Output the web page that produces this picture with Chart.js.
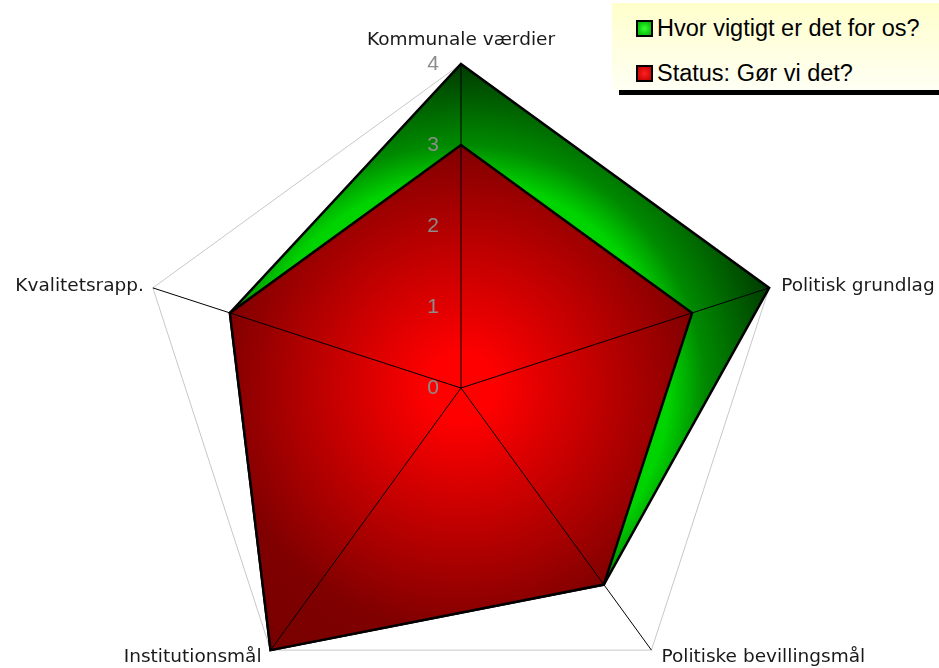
<!DOCTYPE html>
<html>
<head>
<meta charset="utf-8">
<script src="https://cdn.jsdelivr.net/npm/chart.js@4.4.1/dist/chart.umd.min.js"></script>
<style>
    html, body { margin: 0; padding: 0; background: #fff; overflow: hidden; width: 939px; height: 668px; }
    #wrap { position: absolute; left: 0; top: 0; width: 939px; height: 776px; }
    #legend {
        position: absolute; left: 612px; top: 3px; width: 327px; height: 87px;
        background: linear-gradient(to bottom, #ffffcc, #fffff4);
        font-family: 'Liberation Sans', Arial, sans-serif; font-size: 23.5px; color: #000;
        z-index: 2;
    }
    #legend .line { position: absolute; left: 7px; right: 0; top: 87px; height: 5px; background: #000; }
    #legend .item { position: absolute; left: 24px; height: 24px; line-height: 24px; white-space: nowrap; }
    #legend .box { display: inline-block; width: 13px; height: 13px; border: 2px solid #000; vertical-align: -1px; margin-right: 4px; }
</style>
</head>
<body>
<div id="wrap"><canvas id="radarChart"></canvas></div>
<div id="legend"></div>
<script>
const categories = ['Kommunale værdier', 'Politisk grundlag', 'Politiske bevillingsmål', 'Institutionsmål', 'Kvalitetsrapp.'];
const importanceValues = [4, 4, 3, 4, 3];
const statusValues = [3, 3, 3, 4, 3];
const tickLabels = ['0', '1', '2', '3', '4'];
const seriesNames = ['Hvor vigtigt er det for os?', 'Status: Gør vi det?'];

document.addEventListener('DOMContentLoaded', () => {
    const ctx = document.getElementById('radarChart');

    // radial shading from the centre of the chart
    const shade = (stops) => (context) => {
        const chart = context.chart;
        const scale = chart.scales.r;
        if (!scale || !chart.chartArea) return stops[0][1];
        const g = chart.ctx.createRadialGradient(scale.xCenter, scale.yCenter, 0, scale.xCenter, scale.yCenter, scale.drawingArea);
        stops.forEach(([pos, col]) => g.addColorStop(pos, col));
        return g;
    };

    // spokes, tick numbers and category labels on top of the fills
    const overlay = {
        id: 'overlay',
        afterDatasetsDraw(chart) {
            const scale = chart.scales.r;
            const c = chart.ctx;
            c.save();
            c.strokeStyle = '#000';
            c.lineWidth = 1;
            categories.forEach((_, i) => {
                const p = scale.getPointPositionForValue(i, scale.max);
                c.beginPath();
                c.moveTo(scale.xCenter, scale.yCenter);
                c.lineTo(p.x, p.y);
                c.stroke();
            });

            c.fillStyle = '#8c8c8c';
            c.font = '21px "Liberation Sans", Arial, sans-serif';
            c.textAlign = 'center';
            c.textBaseline = 'middle';
            tickLabels.forEach((t, i) => {
                const y = scale.yCenter - scale.getDistanceFromCenterForValue(i);
                c.fillText(t, scale.xCenter - 28, y);
            });

            c.fillStyle = '#1a1a1a';
            c.font = '18.5px "DejaVu Sans", Verdana, sans-serif';
            categories.forEach((label, i) => {
                const p = scale.getPointPositionForValue(i, scale.max);
                const dx = p.x - scale.xCenter;
                const dy = p.y - scale.yCenter;
                if (Math.abs(dx) < 1) {
                    c.textAlign = 'center';
                    c.textBaseline = 'alphabetic';
                    c.fillText(label, p.x, p.y - 19);
                } else if (dy < 0) {
                    c.textAlign = dx > 0 ? 'left' : 'right';
                    c.textBaseline = 'middle';
                    c.fillText(label, p.x + (dx > 0 ? 12 : -9), p.y - 2);
                } else {
                    c.textAlign = dx > 0 ? 'left' : 'right';
                    c.textBaseline = 'top';
                    c.fillText(label, p.x + (dx > 0 ? 10 : -9), p.y - 2);
                }
            });
            c.restore();
        }
    };

    new Chart(ctx, {
        type: 'radar',
        data: {
            labels: categories,
            datasets: [
                {
                    label: seriesNames[0],
                    data: importanceValues,
                    order: 1,
                    backgroundColor: shade([[0, '#00d800'], [0.64, '#00d400'], [0.75, '#008a00'], [1, '#003a00']]),
                    borderColor: '#000',
                    borderWidth: 2.5,
                    borderJoinStyle: 'miter',
                    pointRadius: 0,
                    fill: true,
                    clip: false
                },
                {
                    label: seriesNames[1],
                    data: statusValues,
                    order: 0,
                    backgroundColor: shade([[0, '#ff0000'], [0.1, '#ff0000'], [0.75, '#800000'], [1, '#780000']]),
                    borderColor: '#000',
                    borderWidth: 2.5,
                    borderJoinStyle: 'miter',
                    pointRadius: 0,
                    fill: true,
                    clip: false
                }
            ]
        },
        options: {
            responsive: true,
            maintainAspectRatio: false,
            animation: false,
            layout: { padding: { top: 64, bottom: 64, left: 0, right: 17 } },
            plugins: {
                legend: { display: false },
                tooltip: { enabled: false }
            },
            scales: {
                r: {
                    min: 0,
                    max: 4,
                    ticks: { display: false, stepSize: 1 },
                    pointLabels: { display: false },
                    angleLines: { display: false },
                    grid: {
                        color: (c) => (c.tick && c.tick.value === 4 ? '#c8c8c8' : 'rgba(0,0,0,0)'),
                        lineWidth: 1
                    }
                }
            }
        },
        plugins: [overlay]
    });

    // legend
    const legend = document.getElementById('legend');
    const swatches = [
        'radial-gradient(circle, #33ff33, #00b000)',
        'radial-gradient(circle, #ff2020, #c00000)'
    ];
    seriesNames.forEach((name, i) => {
        const item = document.createElement('div');
        item.classList.add('item');
        item.style.top = (13 + i * 45) + 'px';
        item.innerHTML = `<span class="box" style="background:${swatches[i]}"></span>${name}`;
        legend.appendChild(item);
    });
    const line = document.createElement('div');
    line.classList.add('line');
    legend.appendChild(line);
});
</script>
</body>
</html>
